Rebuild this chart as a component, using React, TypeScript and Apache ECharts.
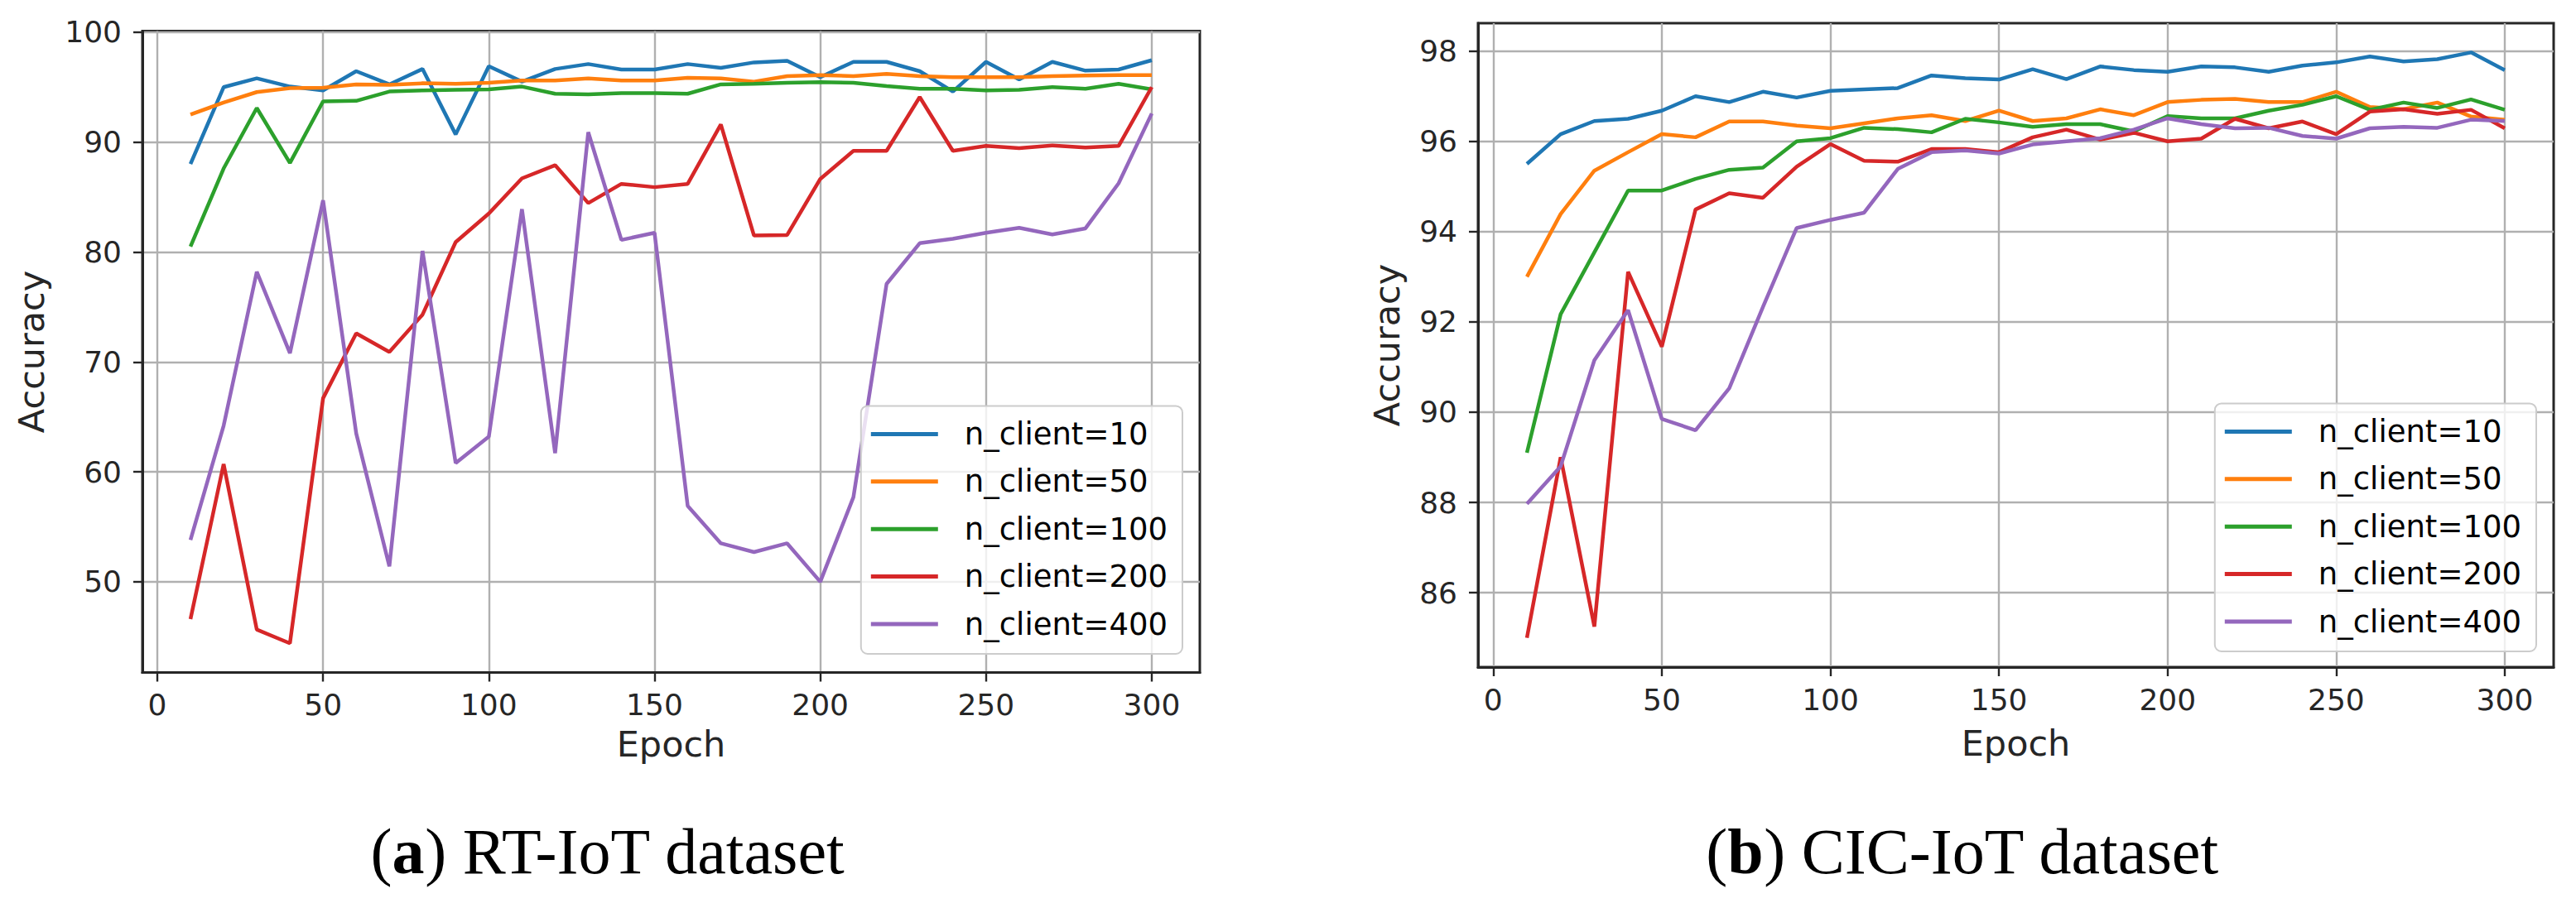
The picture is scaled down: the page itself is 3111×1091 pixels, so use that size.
import React, { useEffect, useRef } from "react";
import * as echarts from "echarts";

const epochs = [10, 20, 30, 40, 50, 60, 70, 80, 90, 100, 110, 120, 130, 140, 150, 160, 170, 180, 190, 200, 210, 220, 230, 240, 250, 260, 270, 280, 290, 300];

const seriesNames = ["n_client=10", "n_client=50", "n_client=100", "n_client=200", "n_client=400"];
const colors = ["#1f77b4", "#ff7f0e", "#2ca02c", "#d62728", "#9467bd"];

// (a) RT-IoT dataset
const rt10 = [88.0, 95.0, 95.8, 95.05, 94.7, 96.45, 95.25, 96.65, 90.7, 96.9, 95.5, 96.65, 97.1, 96.6, 96.6, 97.1, 96.75, 97.25, 97.4, 95.9, 97.3, 97.3, 96.45, 94.6, 97.3, 95.7, 97.3, 96.5, 96.6, 97.45];
const rt50 = [92.5, 93.6, 94.55, 94.9, 94.95, 95.25, 95.2, 95.35, 95.3, 95.4, 95.6, 95.6, 95.8, 95.6, 95.6, 95.85, 95.8, 95.5, 96.0, 96.1, 96.0, 96.2, 96.0, 95.9, 95.9, 95.9, 96.0, 96.05, 96.1, 96.1];
const rt100 = [80.5, 87.6, 93.1, 88.1, 93.7, 93.75, 94.6, 94.7, 94.75, 94.8, 95.05, 94.4, 94.35, 94.45, 94.45, 94.4, 95.25, 95.3, 95.4, 95.45, 95.4, 95.1, 94.85, 94.85, 94.7, 94.75, 95.0, 94.85, 95.3, 94.8];
const rt200 = [46.6, 60.7, 45.65, 44.4, 66.7, 72.6, 70.9, 74.3, 80.9, 83.5, 86.7, 87.9, 84.45, 86.2, 85.9, 86.2, 91.6, 81.5, 81.55, 86.65, 89.2, 89.2, 94.1, 89.2, 89.65, 89.45, 89.7, 89.5, 89.65, 95.0];
const rt400 = [53.8, 64.2, 78.2, 70.8, 84.7, 63.5, 51.4, 80.1, 60.8, 63.2, 83.9, 61.7, 90.9, 81.1, 81.75, 56.9, 53.5, 52.7, 53.5, 50.0, 57.7, 77.1, 80.8, 81.2, 81.75, 82.2, 81.6, 82.15, 86.25, 92.6];

// (b) CIC-IoT dataset
const cic10 = [95.5, 96.16, 96.45, 96.5, 96.68, 97.0, 96.87, 97.1, 96.97, 97.12, 97.15, 97.18, 97.46, 97.4, 97.37, 97.6, 97.38, 97.66, 97.58, 97.54, 97.66, 97.64, 97.54, 97.68, 97.75, 97.88, 97.77, 97.82, 97.97, 97.58];
const cic50 = [93.0, 94.39, 95.35, 95.76, 96.16, 96.09, 96.44, 96.44, 96.35, 96.29, 96.4, 96.51, 96.58, 96.45, 96.68, 96.45, 96.51, 96.71, 96.58, 96.87, 96.92, 96.94, 96.87, 96.87, 97.1, 96.76, 96.71, 96.86, 96.55, 96.48];
const cic100 = [89.1, 92.17, 93.54, 94.91, 94.91, 95.17, 95.37, 95.42, 96.0, 96.07, 96.3, 96.27, 96.2, 96.5, 96.42, 96.32, 96.38, 96.38, 96.22, 96.56, 96.51, 96.51, 96.68, 96.81, 97.0, 96.7, 96.86, 96.74, 96.93, 96.7];
const cic200 = [85.0, 89.0, 85.25, 93.11, 91.45, 94.49, 94.85, 94.75, 95.44, 95.94, 95.57, 95.55, 95.83, 95.83, 95.76, 96.09, 96.26, 96.04, 96.19, 96.0, 96.06, 96.5, 96.29, 96.44, 96.16, 96.66, 96.71, 96.61, 96.7, 96.29];
const cic400 = [87.97, 88.8, 91.15, 92.26, 89.85, 89.6, 90.53, 92.33, 94.08, 94.26, 94.42, 95.39, 95.76, 95.8, 95.73, 95.93, 96.0, 96.07, 96.26, 96.51, 96.38, 96.29, 96.3, 96.12, 96.06, 96.29, 96.32, 96.3, 96.48, 96.45];

const xTicks = [0, 50, 100, 150, 200, 250, 300];
const yTicksA = [50, 60, 70, 80, 90, 100];
const yTicksB = [86, 88, 90, 92, 94, 96, 98];

const captionA = "({b|a}) RT-IoT dataset";
const captionB = "({b|b}) CIC-IoT dataset";

const SANS = '"DejaVu Sans", sans-serif';
const SERIF = '"Liberation Serif", "DejaVu Serif", serif';
const INK = "#262626";
const GRID = "#b0b0b0";

function paddedRange(arrs: number[][], frac: number) {
  let lo = Infinity;
  let hi = -Infinity;
  arrs.forEach((a) => a.forEach((v) => { lo = Math.min(lo, v); hi = Math.max(hi, v); }));
  const m = (hi - lo) * frac;
  return [lo - m, hi + m];
}

function makeXAxis(gridIndex: number, nameGap: number) {
  const m = (epochs[epochs.length - 1] - epochs[0]) * 0.05;
  return {
    type: "value",
    gridIndex,
    min: epochs[0] - m,
    max: epochs[epochs.length - 1] + m,
    name: "Epoch",
    nameLocation: "middle",
    nameGap,
    nameTextStyle: { fontSize: 43, fontFamily: SANS, color: INK },
    axisLine: { show: true, onZero: false, lineStyle: { color: INK, width: 3 } },
    axisTick: { show: true, inside: false, length: 11, customValues: xTicks, lineStyle: { color: INK, width: 2.4 } },
    axisLabel: { show: true, customValues: xTicks, margin: 21, fontSize: 36, fontFamily: SANS, color: INK },
    splitLine: { show: true, lineStyle: { color: GRID, width: 2.4 } },
  };
}

function makeYAxis(gridIndex: number, range: number[], ticks: number[], nameGap: number) {
  return {
    type: "value",
    gridIndex,
    min: range[0],
    max: range[1],
    name: "Accuracy",
    nameLocation: "middle",
    nameGap,
    nameTextStyle: { fontSize: 43, fontFamily: SANS, color: INK },
    axisLine: { show: true, onZero: false, lineStyle: { color: INK, width: 3 } },
    axisTick: { show: true, inside: false, length: 11, customValues: ticks, lineStyle: { color: INK, width: 2.4 } },
    axisLabel: { show: true, customValues: ticks, margin: 25, fontSize: 36, fontFamily: SANS, color: INK },
    splitLine: { show: true, lineStyle: { color: GRID, width: 2.4 } },
  };
}

function makeLegend(right: number, bottom: number) {
  return {
    data: seriesNames,
    orient: "vertical",
    right,
    bottom,
    icon: "rect",
    itemWidth: 81,
    itemHeight: 5,
    itemGap: 13.4,
    selectedMode: false,
    textStyle: { fontSize: 37, fontFamily: SANS, color: "#000", lineHeight: 44, padding: [0, 0, 0, 27] },
    backgroundColor: "rgba(255,255,255,0.8)",
    borderColor: "#cccccc",
    borderWidth: 2,
    borderRadius: 8,
    padding: [12, 18, 14, 12],
  };
}

function makeSeries(data: number[][], gridIdx: number) {
  return data.map((vals, i) => ({
    type: "line",
    name: seriesNames[i],
    xAxisIndex: gridIdx,
    yAxisIndex: gridIdx,
    data: epochs.map((e, j) => [e, vals[j]]),
    showSymbol: false,
    symbol: "none",
    color: colors[i],
    lineStyle: { color: colors[i], width: 4.5 },
    emphasis: { disabled: true },
  }));
}

export default function App() {
  const ref = useRef<HTMLDivElement>(null);
  useEffect(() => {
    if (!ref.current) return;
    const chart = echarts.init(ref.current, undefined, { renderer: "svg" });
    const dataA = [rt10, rt50, rt100, rt200, rt400];
    const dataB = [cic10, cic50, cic100, cic200, cic400];
    const rangeA = paddedRange(dataA, 0.05);
    const rangeB = paddedRange(dataB, 0.05);
    const option: any = {
      animation: false,
      backgroundColor: "#ffffff",
      grid: [
        { left: 172, top: 37.5, width: 1277, height: 775, show: true, borderColor: INK, borderWidth: 3, backgroundColor: "transparent", containLabel: false, outerBoundsMode: "none" },
        { left: 1785, top: 28, width: 1299, height: 778, show: true, borderColor: INK, borderWidth: 3, backgroundColor: "transparent", containLabel: false, outerBoundsMode: "none" },
      ],
      xAxis: [makeXAxis(0, 65), makeXAxis(1, 70)],
      yAxis: [makeYAxis(0, rangeA, yTicksA, 113), makeYAxis(1, rangeB, yTicksB, 89)],
      legend: [makeLegend(3111 - 1428, 1091 - 790), makeLegend(3111 - 3063, 1091 - 787)],
      series: [...makeSeries(dataA, 0), ...makeSeries(dataB, 1)],
      graphic: [
        {
          type: "text",
          x: 734,
          y: 1028,
          style: {
            text: captionA,
            fontSize: 78,
            fontFamily: SERIF,
            fill: "#000",
            align: "center",
            verticalAlign: "middle",
            rich: { b: { fontSize: 78, fontFamily: SERIF, fontWeight: "bold", fill: "#000" } },
          },
        },
        {
          type: "text",
          x: 2370,
          y: 1028,
          style: {
            text: captionB,
            fontSize: 78,
            fontFamily: SERIF,
            fill: "#000",
            align: "center",
            verticalAlign: "middle",
            rich: { b: { fontSize: 78, fontFamily: SERIF, fontWeight: "bold", fill: "#000" } },
          },
        },
      ],
    };
    chart.setOption(option);
    return () => chart.dispose();
  }, []);
  return <div ref={ref} style={{ position: "absolute", left: 0, top: 0, width: 3111, height: 1091 }} />;
}
